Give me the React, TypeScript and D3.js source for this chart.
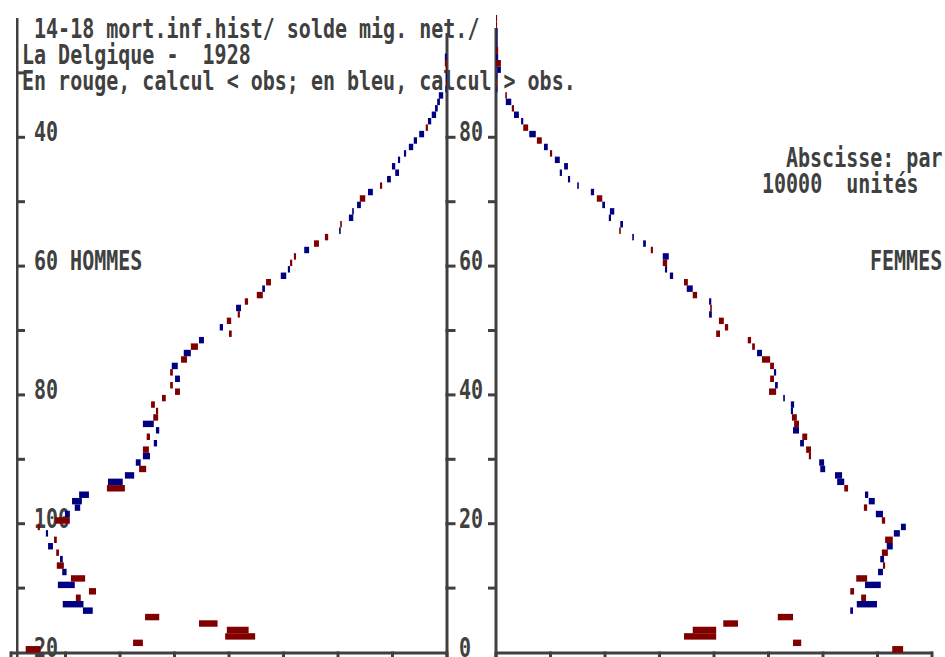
import React from "react";
import * as d3 from "d3";

const width = 945;
const height = 657;

// ages 0..92 (hommes), values in thousands of persons
const menObs = [
  77.3, 57.6, 40.7, 40.4, 45.5, 55.4, 65.0, 66.7, 68.1, 65.7,
  68.3, 69.0, 69.8, 71.6, 70.5, 71.7, 72.3, 72.1, 73.2, 75.1,
  71.9, 69.2, 67.3, 67.0, 65.7, 62.4, 59.5, 57.4, 56.5, 56.2,
  54.5, 55.8, 53.2, 55.1, 52.8, 53.8, 53.9, 53.4, 54.3, 52.3,
  49.9, 50.8, 49.0, 50.8, 49.4, 48.8, 47.0, 47.0, 44.6, 40.0,
  41.1, 40.4, 38.4, 37.8, 37.1, 34.9, 33.4, 33.2, 29.5, 28.8,
  28.8, 28.1, 25.3, 24.4, 22.4, 19.5, 19.6, 17.2, 17.1, 15.8,
  16.0, 13.6, 12.3, 10.3, 8.8, 9.5, 8.6, 7.5, 6.2, 5.5,
  4.2, 3.9, 2.9, 2.0, 1.7, 1.3, 0.7, 0.2, 0.2, 0.1, 0.2, 0.4, 0.05
];
const menCalc = [
  74.6, 55.8, 35.2, 36.4, 42.1, 52.8, 66.8, 70.5, 67.2, 64.4,
  71.4, 66.4, 70.6, 70.3, 71.0, 71.2, 73.2, 71.6, 73.6, 74.7,
  69.2, 70.1, 68.3, 68.8, 67.5, 59.1, 62.2, 59.1, 55.2, 57.1,
  55.8, 54.7, 53.8, 54.5, 53.4, 55.8, 53.0, 53.0, 53.6, 51.6,
  49.0, 50.3, 49.9, 50.3, 50.5, 47.7, 48.3, 45.7, 45.5, 39.5,
  41.7, 39.6, 38.0, 38.7, 36.5, 33.8, 33.9, 32.3, 30.5, 29.2,
  28.4, 27.7, 26.2, 23.5, 21.8, 19.8, 19.3, 18.0, 17.4, 16.5,
  15.0, 14.5, 11.9, 11.0, 9.5, 10.1, 9.0, 7.9, 7.0, 6.1,
  5.1, 3.5, 3.5, 2.8, 2.2, 1.8, 1.5, 0.3, 0.15, 0.2, 0.15, 0.05, 0.4
];

// ages 0..98 (femmes)
const womenObs = [
  74.7, 56.0, 40.4, 40.4, 44.4, 54.5, 65.0, 66.2, 67.9, 65.7,
  67.7, 68.1, 70.1, 71.4, 70.5, 71.9, 71.7, 72.8, 73.0, 74.3,
  71.4, 69.7, 68.1, 68.4, 67.7, 64.6, 62.6, 62.2, 59.5, 59.3,
  57.8, 57.8, 55.8, 57.1, 54.5, 55.6, 55.2, 54.1, 54.1, 52.7,
  51.4, 51.2, 51.0, 51.0, 51.0, 50.3, 47.9, 47.5, 46.8, 41.1,
  42.6, 41.8, 39.1, 39.6, 39.1, 36.9, 35.0, 35.2, 31.9, 31.0,
  31.4, 30.6, 28.8, 27.0, 25.0, 22.9, 22.8, 20.7, 20.9, 19.5,
  19.5, 17.4, 14.9, 13.2, 11.7, 12.5, 10.8, 10.3, 8.8, 8.4,
  6.1, 5.9, 4.6, 3.3, 3.3, 1.8, 2.0, 0.1, 0.2, 0.1,
  0.2, 0.9, 0.0, 0.4, 0.1, 0.1, 0.1, 0.2, 0.2
];
const womenCalc = [
  72.7, 54.5, 34.5, 36.1, 41.7, 51.7, 65.5, 69.9, 67.0, 65.0,
  70.6, 66.1, 71.0, 71.0, 71.2, 70.8, 72.8, 71.4, 74.1, 75.2,
  70.8, 71.0, 67.5, 69.5, 68.3, 63.9, 63.9, 63.5, 60.4, 60.2,
  57.4, 56.9, 56.5, 56.2, 55.6, 54.7, 54.3, 54.5, 54.7, 53.0,
  50.1, 51.7, 50.3, 51.4, 50.3, 48.8, 48.8, 47.0, 46.2, 40.4,
  42.0, 40.9, 39.6, 39.3, 39.5, 36.1, 36.1, 34.5, 32.5, 31.4,
  30.6, 31.7, 28.4, 27.5, 25.3, 22.6, 23.3, 21.1, 21.7, 20.0,
  18.5, 18.0, 15.2, 13.6, 12.1, 13.2, 11.7, 9.9, 9.5, 7.5,
  7.3, 5.0, 5.0, 4.2, 2.9, 2.8, 1.7, 0.25, 0.1, 0.2,
  0.9, 0.0, 0.4, 0.0, 0.15, 0.15, 0.15, 0.0, 0.0
];

const ageTicks = [10, 20, 30, 40, 50, 60, 70, 80];
const outerTicks = [10, 20, 30, 40, 50, 60, 70, 80, 90];
const valueTicks = [0, 10, 20, 30, 40, 50, 60, 70, 80];
const leftLabels = [
  { age: 0, text: "20" },
  { age: 20, text: "100" },
  { age: 40, text: "80" },
  { age: 60, text: "60 HOMMES" },
  { age: 80, text: "40" }
];
const midLabels = [
  { age: 0, text: "0" },
  { age: 20, text: "20" },
  { age: 40, text: "40" },
  { age: 60, text: "60" },
  { age: 80, text: "80" }
];
const titleLines = [
  " 14-18 mort.inf.hist/ solde mig. net./",
  "La Delgique -  1928",
  "En rouge, calcul < obs; en bleu, calcul > obs."
];

const RED = "#800000";
const BLUE = "#000080";
const GREY = "#404040";

const y = d3.scaleLinear().domain([0, 80]).range([652.5, 137.3]);
const xMen = d3.scaleLinear().domain([0, 80]).range([447, 11]);
const xWomen = d3.scaleLinear().domain([0, 80]).range([496, 932]);

function Txt({ x, yy, text }: { x: number; yy: number; text: string }) {
  return (
    <text
      transform={`translate(${x},${yy}) scale(1,1.3)`}
      fontFamily="DejaVu Sans Mono"
      fontWeight="bold"
      fontSize={20}
      fill={GREY}
      style={{ whiteSpace: "pre" }}
    >
      {text}
    </text>
  );
}

function Bars({ obs, calc, xs }: { obs: number[]; calc: number[]; xs: d3.ScaleLinear<number, number> }) {
  return (
    <g>
      {obs.map((o, age) => {
        const c = calc[age];
        if (o === c) return null;
        const a = xs(o);
        const b = xs(c);
        const top = y(age + 1);
        return (
          <rect
            key={age}
            x={Math.min(a, b)}
            y={top}
            width={Math.max(1, Math.abs(a - b))}
            height={y(age) - top}
            fill={c < o ? RED : BLUE}
          />
        );
      })}
    </g>
  );
}

export default function App() {
  return (
    <svg
      width={width}
      height={height}
      style={{ position: "absolute", left: 0, top: 0, background: "#fff" }}
    >
      {titleLines.map((t, i) => (
        <Txt key={i} x={22} yy={38 + i * 26} text={t} />
      ))}
      <Txt x={786} yy={166.5} text="Abscisse: par" />
      <Txt x={762} yy={192.5} text="10000  unités" />
      <Txt x={870} yy={y(60) + 4} text="FEMMES" />
      {leftLabels.map((l) => (
        <Txt key={l.text} x={34} yy={y(l.age) + 4} text={l.text} />
      ))}
      {midLabels.map((l) => (
        <Txt key={l.text} x={459} yy={y(l.age) + 4} text={l.text} />
      ))}

      {/* axes */}
      <g fill={GREY}>
        <rect x={16} y={18} width={2.5} height={height - 18} />
        {outerTicks.map((t) => (
          <rect key={t} x={16} y={y(t) - 1.5} width={9} height={3} />
        ))}
        <rect x={445.5} y={33} width={3} height={height - 33} />
        {ageTicks.map((t) => (
          <rect key={t} x={445.5} y={y(t) - 1.5} width={10} height={3} />
        ))}
        <rect x={494.5} y={28} width={3} height={height - 28} />
        {ageTicks.map((t) => (
          <rect key={t} x={488} y={y(t) - 1.5} width={9} height={3} />
        ))}
        <rect x={10} y={651.5} width={437} height={3} />
        {valueTicks.map((v) => (
          <rect key={v} x={xMen(v) - 1.5} y={651.5} width={3} height={6} />
        ))}
        <rect x={496} y={651.5} width={437} height={3} />
        {valueTicks.map((v) => (
          <rect key={v} x={xWomen(v) - 1.5} y={651.5} width={3} height={6} />
        ))}
      </g>

      <Bars obs={menObs} calc={menCalc} xs={xMen} />
      <Bars obs={womenObs} calc={womenCalc} xs={xWomen} />
    </svg>
  );
}
